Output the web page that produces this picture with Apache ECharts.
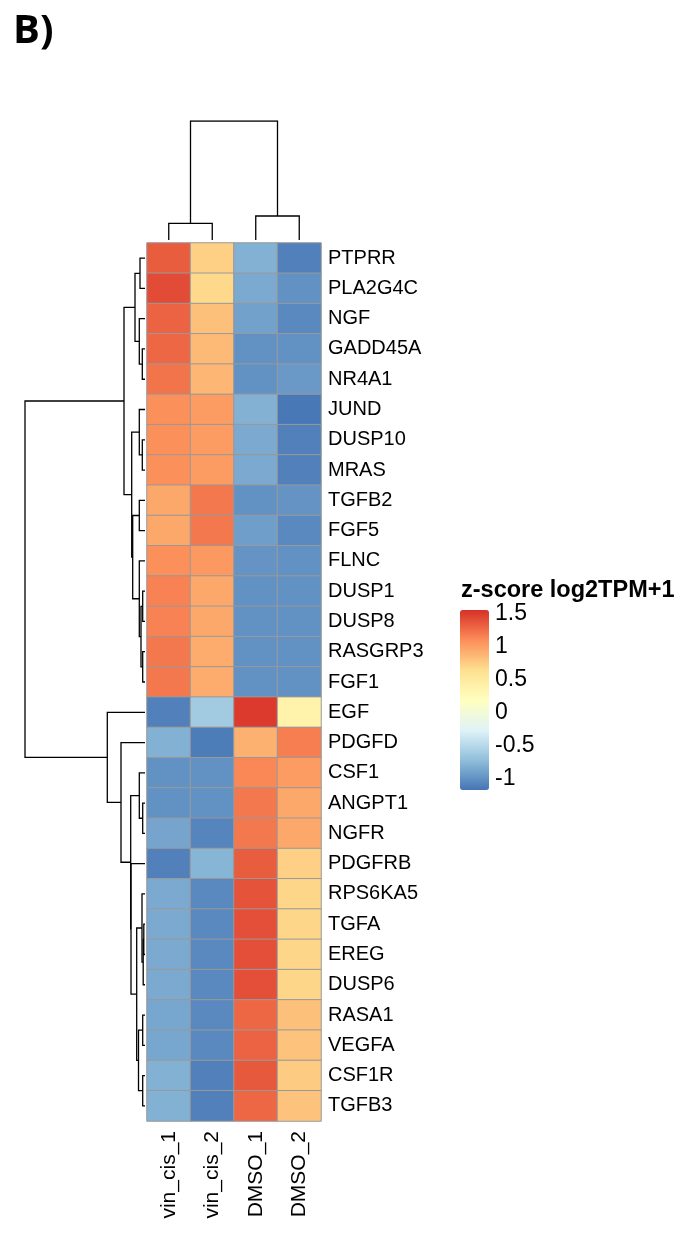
<!DOCTYPE html>
<html>
<head>
<meta charset="utf-8">
<script src="https://cdn.jsdelivr.net/npm/echarts@6/dist/echarts.min.js"></script>
<style>
  html, body { margin: 0; padding: 0; background: #fff; }
  #chart { width: 686px; height: 1249px; }
</style>
</head>
<body>
<div id="chart"></div>
<script>
// rows (top -> bottom) and columns, in dendrogram order
const genes = ['PTPRR', 'PLA2G4C', 'NGF', 'GADD45A', 'NR4A1', 'JUND', 'DUSP10', 'MRAS', 'TGFB2', 'FGF5',
    'FLNC', 'DUSP1', 'DUSP8', 'RASGRP3', 'FGF1', 'EGF', 'PDGFD', 'CSF1', 'ANGPT1', 'NGFR',
    'PDGFRB', 'RPS6KA5', 'TGFA', 'EREG', 'DUSP6', 'RASA1', 'VEGFA', 'CSF1R', 'TGFB3'];
const samples = ['vin_cis_1', 'vin_cis_2', 'DMSO_1', 'DMSO_2'];

// z-score of log2TPM+1, one array per sample (same order as genes)
const vinCis1 = [1.33, 1.42, 1.3, 1.28, 1.22, 1.08, 1.08, 1.08, 0.95, 0.95, 1.08, 1.15, 1.15, 1.2, 1.2,
    -1.1, -0.8, -1.0, -1.0, -0.88, -1.1, -0.85, -0.85, -0.85, -0.85, -0.87, -0.87, -0.8, -0.8];
const vinCis2 = [0.73, 0.68, 0.82, 0.85, 0.87, 1.02, 1.02, 1.02, 1.2, 1.2, 1.03, 0.95, 0.95, 0.93, 0.93,
    -0.62, -1.12, -1.0, -1.0, -1.07, -0.78, -1.05, -1.05, -1.05, -1.05, -1.05, -1.05, -1.1, -1.1];
const dmso1 = [-0.8, -0.85, -0.9, -1.0, -1.0, -0.8, -0.85, -0.85, -1.0, -0.92, -0.98, -1.0, -1.0, -1.0, -1.0,
    1.5, 0.9, 1.12, 1.2, 1.2, 1.33, 1.38, 1.4, 1.4, 1.4, 1.28, 1.3, 1.35, 1.28];
const dmso2 = [-1.1, -1.0, -1.05, -1.0, -0.95, -1.15, -1.1, -1.1, -0.98, -1.05, -1.0, -1.0, -1.0, -1.0, -1.0,
    0.38, 1.17, 1.02, 0.95, 0.95, 0.73, 0.7, 0.7, 0.7, 0.7, 0.82, 0.8, 0.76, 0.8];

// hclust-like merges: [a, b, height]; a number refers to an earlier merge
const rowMerges = [
    ['GADD45A', 'NR4A1', 2.7],   // 0
    ['NGF', 0, 5.7],             // 1
    ['PTPRR', 'PLA2G4C', 5],     // 2
    [2, 1, 10],                  // 3
    ['DUSP10', 'MRAS', 2.7],     // 4
    ['JUND', 4, 5.7],            // 5
    ['TGFB2', 'FGF5', 5.7],      // 6
    ['DUSP1', 'DUSP8', 2.3],     // 7
    ['RASGRP3', 'FGF1', 2.3],    // 8
    [7, 8, 4],                   // 9
    ['FLNC', 9, 5.7],            // 10
    [6, 10, 12.3],               // 11
    [5, 11, 13.3],               // 12
    [3, 12, 21],                 // 13
    ['ANGPT1', 'NGFR', 2.3],     // 14
    ['CSF1', 14, 5.7],           // 15
    ['TGFA', 'EREG', 1.2],       // 16
    [16, 'DUSP6', 1.8],          // 17
    ['RPS6KA5', 17, 3],          // 18
    ['RASA1', 'VEGFA', 2.3],     // 19
    ['CSF1R', 'TGFB3', 2.3],     // 20
    [19, 20, 6.5],               // 21
    [18, 21, 8.3],               // 22
    ['PDGFRB', 22, 14],          // 23
    [15, 23, 14.3],              // 24
    ['PDGFD', 24, 24],           // 25
    ['EGF', 25, 37.7],           // 26
    [13, 26, 120]                // 27
];
const colMerges = [
    ['vin_cis_1', 'vin_cis_2', 16.7],
    ['DMSO_1', 'DMSO_2', 24],
    [0, 1, 119]
];

const legendTicks = [-1, -0.5, 0, 0.5, 1, 1.5];
const zMin = -1.17, zMax = 1.55;

// pheatmap default palette: rev(RdYlBu 7)
const palette = ['#4575b4', '#91bfdb', '#e0f3f8', '#ffffbf', '#fee090', '#fc8d59', '#d73027'];

// heatmap cells
let cells = [];
[vinCis1, vinCis2, dmso1, dmso2].map(function (col, ci) {
    col.map(function (v, ri) {
        cells.push([ci, ri, v]);
    });
});

// dendrogram segments -> polylines
function treeSegments(leaves, merges, horizontal) {
    let pos = {};
    leaves.map(function (n, i) { pos[n] = {p: i + 0.5, h: 0}; });
    let nodes = [];
    let out = [];
    merges.map(function (m) {
        let a = typeof m[0] === 'number' ? nodes[m[0]] : pos[m[0]];
        let b = typeof m[1] === 'number' ? nodes[m[1]] : pos[m[1]];
        let h = m[2];
        let pts = [[a.h, a.p], [h, a.p], [h, b.p], [b.h, b.p]];
        if (!horizontal) pts = pts.map(function (q) { return [q[1], q[0]]; });
        out.push({coords: pts});
        nodes.push({p: (a.p + b.p) / 2, h: h});
    });
    return out;
}

const font = 'Liberation Sans, Arial, sans-serif';
const lineStyle = {color: '#000', width: 1.3, opacity: 1};

let myChart = echarts.init(document.getElementById('chart'));
myChart.setOption({
    animation: false,
    backgroundColor: '#fff',
    title: [
        {
            text: 'B)', left: 13, top: 12, padding: 0,
            textStyle: {fontFamily: 'Open Sans, sans-serif', fontWeight: 'bold', fontSize: 40, color: '#000'}
        },
        {
            text: 'z-score log2TPM+1', left: 461, top: 579, padding: 0,
            textStyle: {fontFamily: font, fontWeight: 'bold', fontSize: 23.5, color: '#000'}
        }
    ],
    grid: [
        {left: 147, top: 243, width: 174, height: 878},  // heatmap
        {left: 25, top: 243, width: 120, height: 878},   // row tree
        {left: 147, top: 121, width: 174, height: 119},  // column tree
        {left: 460, top: 610, width: 29, height: 180}    // legend axis
    ],
    xAxis: [
        {
            type: 'category', gridIndex: 0, data: samples, position: 'bottom',
            axisLine: {show: false}, axisTick: {show: false}, splitLine: {show: false},
            axisLabel: {rotate: 90, margin: 10, fontSize: 21, fontFamily: font, color: '#000'}
        },
        {type: 'value', gridIndex: 1, min: 0, max: 120, inverse: true, show: false},
        {type: 'value', gridIndex: 2, min: 0, max: 4, show: false},
        {type: 'value', gridIndex: 3, min: 0, max: 1, show: false}
    ],
    yAxis: [
        {
            type: 'category', gridIndex: 0, data: genes, inverse: true, position: 'right',
            axisLine: {show: false}, axisTick: {show: false}, splitLine: {show: false},
            axisLabel: {margin: 7, fontSize: 20, fontFamily: font, color: '#000'}
        },
        {type: 'value', gridIndex: 1, min: 0, max: genes.length, inverse: true, show: false},
        {type: 'value', gridIndex: 2, min: 0, max: 119, show: false},
        {
            type: 'value', gridIndex: 3, min: zMin, max: zMax, position: 'right',
            axisLine: {show: false}, splitLine: {show: false},
            axisTick: {inside: true, length: 5, customValues: legendTicks, lineStyle: {color: '#fff', width: 1.5}},
            axisLabel: {margin: 6, fontSize: 23, fontFamily: font, color: '#000', customValues: legendTicks}
        },
        {
            type: 'value', gridIndex: 3, min: zMin, max: zMax, position: 'left',
            axisLine: {show: false}, splitLine: {show: false}, axisLabel: {show: false},
            axisTick: {inside: true, length: 5, customValues: legendTicks, lineStyle: {color: '#fff', width: 1.5}}
        }
    ],
    visualMap: {
        type: 'continuous', seriesIndex: 0, min: zMin, max: zMax,
        calculable: false, itemWidth: 29, itemHeight: 180, left: 460, top: 610, padding: 0,
        inRange: {color: palette}, textStyle: {color: 'transparent'}
    },
    series: [
        {
            type: 'heatmap', xAxisIndex: 0, yAxisIndex: 0, data: cells,
            itemStyle: {borderColor: '#999', borderWidth: 1}, silent: true
        },
        {
            type: 'lines', coordinateSystem: 'cartesian2d', xAxisIndex: 1, yAxisIndex: 1,
            polyline: true, silent: true, data: treeSegments(genes, rowMerges, true), lineStyle: lineStyle
        },
        {
            type: 'lines', coordinateSystem: 'cartesian2d', xAxisIndex: 2, yAxisIndex: 2,
            polyline: true, silent: true, data: treeSegments(samples, colMerges, false), lineStyle: lineStyle
        }
    ]
});
</script>
</body>
</html>
